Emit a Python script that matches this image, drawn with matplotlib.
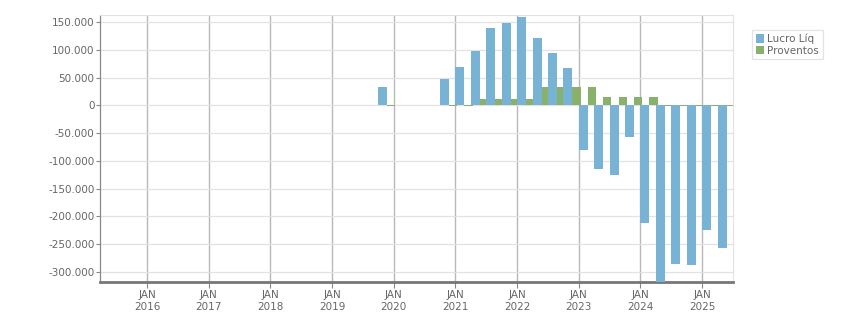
import matplotlib.pyplot as plt
from matplotlib.patches import Patch
from matplotlib.ticker import FuncFormatter

# quarterly results (R$)
quarters = ['2019Q4', '2020Q1', '2020Q2', '2020Q3', '2020Q4',
            '2021Q1', '2021Q2', '2021Q3', '2021Q4',
            '2022Q1', '2022Q2', '2022Q3', '2022Q4',
            '2023Q1', '2023Q2', '2023Q3', '2023Q4',
            '2024Q1', '2024Q2', '2024Q3', '2024Q4',
            '2025Q1', '2025Q2']
lucro = [34000, 0, 0, 0, 47000,
         70000, 99000, 139000, 148000,
         159000, 122000, 95000, 67000,
         -81000, -114000, -126000, -56000,
         -211000, -330000, -285000, -288000,
         -225000, -256000]
proventos = [-1200, 0, 0, 0, -1200,
             -1200, 11000, 11000, 11000,
             11000, 34000, 34000, 34000,
             34000, 16000, 16000, 16000,
             16000, -1200, -1200, -1200,
             -1200, -1200]
years = list(range(2016, 2026))
tick_labels = [f'JAN\n{y}' for y in years]

blue = '#78b2d5'
green = '#8ab16c'
text_col = '#666666'

x = [int(q[:4]) + (int(q[5]) - 1) / 4 for q in quarters]

fig = plt.figure(figsize=(8.51, 3.13), dpi=100)
ax = fig.add_axes([100 / 851, 1 - 282 / 313, 633 / 851, 267 / 313])

w_blue = 0.146
w_green = 0.132
ax.bar(x, lucro, width=w_blue, align='edge', color=blue, zorder=3)
ax.bar([v + w_blue for v in x], proventos, width=w_green, align='edge',
       color=green, zorder=2)

ax.set_xlim(2015.238, 2025.50)
ax.set_ylim(-318000, 163000)

ax.set_xticks(years)
ax.set_xticklabels(tick_labels, fontsize=7.5, color=text_col, linespacing=1.15)
ax.set_yticks(range(-300000, 150001, 50000))
ax.yaxis.set_major_formatter(FuncFormatter(lambda v, p: f'{int(v):,}'.replace(',', '.')))
ax.tick_params(axis='y', labelsize=7.5, labelcolor=text_col, color='#888888',
               length=3, width=0.8, pad=1)
ax.tick_params(axis='x', color='#888888', length=4, width=0.8, pad=2)

ax.grid(axis='y', color='#e2e2e2', linewidth=0.9, zorder=0)
ax.grid(axis='x', color='#b8b8b8', linewidth=1.0, zorder=0)
ax.set_axisbelow(True)

ax.spines['bottom'].set_color('#777777')
ax.spines['bottom'].set_linewidth(2)
ax.spines['left'].set_color('#888888')
ax.spines['left'].set_linewidth(0.9)
ax.spines['top'].set_color('#e2e2e2')
ax.spines['right'].set_color('#e2e2e2')

handles = [Patch(facecolor=blue, label='Lucro Líq'),
           Patch(facecolor=green, label='Proventos')]
leg = fig.legend(handles=handles, loc='upper left', bbox_to_anchor=(752 / 851, 1 - 30 / 313),
                 fontsize=7.5, frameon=True, fancybox=False, handlelength=0.8,
                 handleheight=0.9, handletextpad=0.3, borderpad=0.35,
                 labelspacing=0.15, borderaxespad=0)
leg.get_frame().set_edgecolor('#dddddd')
leg.get_frame().set_linewidth(0.9)
for t in leg.get_texts():
    t.set_color(text_col)

fig.savefig('out.png', dpi=100)
